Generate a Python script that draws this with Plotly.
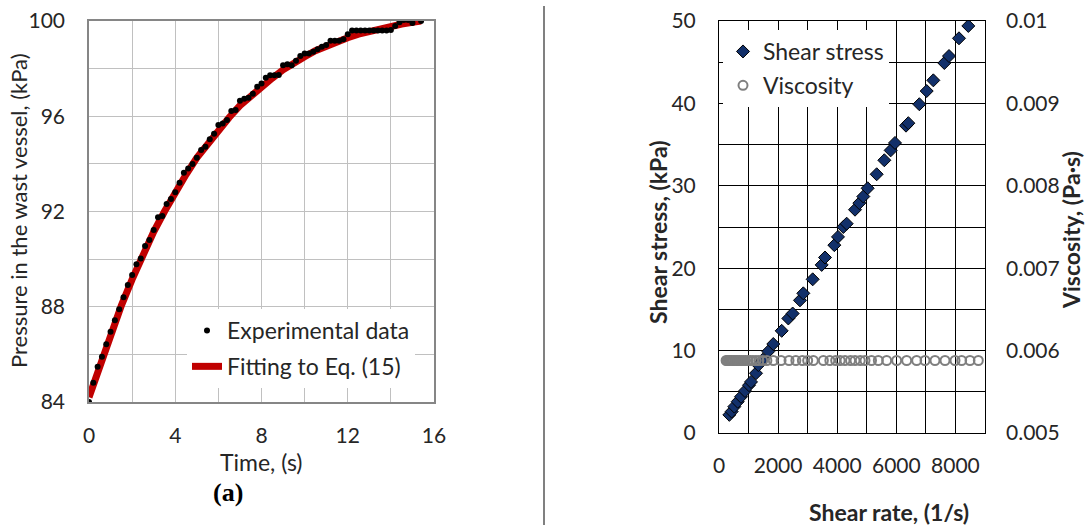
import plotly.graph_objects as go

# ---------------- data: left panel (pressure vs time) ----------------
time_s = [0, 0.2, 0.4, 0.6, 0.8, 1.0, 1.2, 1.4, 1.6, 1.8, 2.0, 2.2, 2.4, 2.6, 2.8,
          3.0, 3.2, 3.4, 3.6, 3.8, 4.0, 4.2, 4.4, 4.6, 4.8, 5.0, 5.2, 5.4, 5.6, 5.8,
          6.0, 6.2, 6.4, 6.6, 6.8, 7.0, 7.2, 7.4, 7.6, 7.8, 8.0, 8.2, 8.4, 8.6, 8.8,
          9.0, 9.2, 9.4, 9.6, 9.8, 10.0, 10.2, 10.4, 10.6, 10.8, 11.0, 11.2, 11.4,
          11.6, 11.8, 12.0, 12.2, 12.4, 12.6, 12.8, 13.0, 13.2, 13.4, 13.6, 13.8,
          14.0, 14.2, 14.4, 14.6, 14.8, 15.0, 15.4]
pressure_kpa = [84.0, 84.81, 85.48, 85.9, 86.42, 86.95, 87.43, 87.89, 88.4, 88.91,
                89.33, 89.78, 90.03, 90.55, 90.8, 91.22, 91.76, 91.81, 92.32, 92.53,
                92.81, 93.21, 93.63, 93.81, 94.0, 94.26, 94.58, 94.72, 95.03, 95.26,
                95.63, 95.7, 95.84, 96.22, 96.26, 96.65, 96.73, 96.78, 96.94, 97.24,
                97.38, 97.62, 97.72, 97.72, 97.73, 98.14, 98.18, 98.14, 98.33, 98.53,
                98.64, 98.64, 98.71, 98.81, 98.92, 98.99, 99.17, 99.17, 99.17, 99.23,
                99.44, 99.6, 99.6, 99.6, 99.6, 99.6, 99.6, 99.6, 99.6, 99.6,
                99.62, 99.79, 99.95, 100.04, 100.04, 99.92, 100.0]

fit_time_s = [0, 0.5, 1, 1.5, 2, 2.5, 3, 3.5, 4, 4.5, 5, 5.5, 6, 6.5, 7, 7.5, 8,
              8.5, 9, 9.5, 10, 10.5, 11, 11.5, 12, 12.5, 13, 13.5, 14, 14.5, 15, 15.4]
fit_pressure_kpa = [84.2, 85.55, 86.85, 88.05, 89.15, 90.2, 91.15, 92.0, 92.8, 93.55,
                    94.25, 94.85, 95.45, 95.95, 96.45, 96.85, 97.25, 97.6, 97.95, 98.25,
                    98.5, 98.75, 98.95, 99.15, 99.3, 99.45, 99.57, 99.68, 99.78, 99.87,
                    99.95, 100.0]

# ---------------- data: right panel (rheology) ----------------
shear_rate = [350, 429, 519, 632, 744, 880, 1015, 1083, 1252, 1331, 1480, 1668, 1837,
              2121, 2346, 2493, 2740, 2853, 3170, 3474, 3586, 3902, 4026, 4207, 4320,
              4602, 4748, 4883, 5030, 5335, 5594, 5808, 5955, 6327, 6406, 6778, 7027,
              7252, 7624, 7782, 8120, 8436]
shear_stress_kpa = [2.2, 2.6, 3.2, 3.8, 4.4, 5.1, 5.8, 6.2, 7.25, 8.25, 8.9, 9.9, 10.8,
                    12.4, 13.9, 14.5, 16.1, 16.95, 18.65, 20.4, 21.3, 22.8, 23.8, 25.0,
                    25.4, 27.1, 27.9, 28.7, 29.7, 31.4, 33.1, 34.3, 35.2, 37.3, 37.6,
                    39.9, 41.5, 42.8, 44.9, 45.75, 47.9, 49.4]

visc_shear_rate = [240, 280, 320, 360, 400, 440, 480, 530, 580, 640, 700, 760, 830, 900,
                   980, 1060, 1150, 1250, 1350, 1480, 1620, 1838, 2100, 2369, 2600, 2820,
                   3000, 3192, 3531, 3750, 3948, 4100, 4263, 4450, 4602, 4780, 4940,
                   5160, 5391, 5673, 6011, 6350, 6688, 6970, 7308, 7647, 7985, 8210,
                   8492, 8774]
viscosity_pas = [0.00588, 0.00588, 0.00588, 0.00588, 0.00588, 0.00588, 0.00588, 0.00588,
                 0.00588, 0.00588, 0.00588, 0.00588, 0.00588, 0.00588, 0.00588, 0.00588,
                 0.00588, 0.00588, 0.00588, 0.00588, 0.00588, 0.00588, 0.00588, 0.00588,
                 0.00588, 0.00588, 0.00588, 0.00588, 0.00588, 0.00588, 0.00588, 0.00588,
                 0.00588, 0.00588, 0.00588, 0.00588, 0.00588, 0.00588, 0.00588, 0.00588,
                 0.00588, 0.00588, 0.00588, 0.00588, 0.00588, 0.00588, 0.00588, 0.00588,
                 0.00588, 0.00588]

visc_tickvals = [0.005, 0.006, 0.007, 0.008, 0.009, 0.01]
visc_ticktext = ["0.005", "0.006", "0.007", "0.008", "0.009", "0.01"]

# ---------------- figure ----------------
W, H = 1088, 525
FONT = "Lato"
FS = 21      # tick labels
TS = 23      # titles and legends
TXT = "#262626"


def px_x(p):
    return p / W


def px_y(p):
    return 1 - p / H


fig = go.Figure()

fig.add_trace(go.Scatter(
    x=fit_time_s, y=fit_pressure_kpa, mode="lines", name="Fitting to Eq. (15)",
    line=dict(color="#c00000", width=7), xaxis="x", yaxis="y",
    legend="legend", legendgroup="fit", legendrank=2))
fig.add_trace(go.Scatter(
    x=time_s, y=pressure_kpa, mode="markers", name="Experimental data",
    marker=dict(color="black", size=6), xaxis="x", yaxis="y",
    legend="legend", legendgroup="exp", legendrank=1))

fig.add_trace(go.Scatter(
    x=shear_rate, y=shear_stress_kpa, mode="markers", name="Shear stress",
    marker=dict(symbol="diamond", color="#12306a", size=10,
                line=dict(color="black", width=1)),
    xaxis="x2", yaxis="y2", legend="legend2", legendgroup="ss", legendrank=1))
fig.add_trace(go.Scatter(
    x=visc_shear_rate, y=viscosity_pas, mode="markers", name="Viscosity",
    marker=dict(symbol="circle-open", color="#7f7f7f", size=9,
                line=dict(color="#7f7f7f", width=2)),
    xaxis="x2", yaxis="y3", legend="legend2", legendgroup="vi", legendrank=2))

tickfont = dict(family=FONT, size=FS, color=TXT)

common = dict(zeroline=False, ticks="", tickfont=tickfont, automargin=False,
              showline=True, mirror=True, showgrid=True, gridwidth=1)

fig.update_layout(
    width=W, height=H,
    margin=dict(l=0, r=0, t=0, b=0, autoexpand=False),
    paper_bgcolor="white", plot_bgcolor="white",
    font=dict(family=FONT, size=FS, color="black"),
    xaxis=dict(domain=[px_x(89), px_x(434)], range=[0, 16], tick0=0, dtick=4,
               gridcolor="#c0c0c0",
               minor=dict(dtick=2, showgrid=True, gridcolor="#c0c0c0", gridwidth=1),
               linecolor="#868686", linewidth=1.5, ticklabelstandoff=14,
               anchor="y", **common),
    yaxis=dict(domain=[px_y(402), px_y(21)], range=[84, 100], tick0=84, dtick=4,
               gridcolor="#c0c0c0",
               minor=dict(dtick=2, showgrid=True, gridcolor="#c0c0c0", gridwidth=1),
               linecolor="#868686", linewidth=1.5, ticklabelstandoff=18,
               anchor="x", **common),
    xaxis2=dict(domain=[px_x(719), px_x(985)], range=[0, 9000], tick0=0, dtick=2000,
                gridcolor="black",
                minor=dict(dtick=1000, showgrid=True, gridcolor="black", gridwidth=1),
                linecolor="black", linewidth=1, ticklabelstandoff=14,
                anchor="y2", **common),
    yaxis2=dict(domain=[px_y(433), px_y(21)], range=[0, 50], tick0=0, dtick=10,
                gridcolor="black",
                minor=dict(dtick=5, showgrid=True, gridcolor="black", gridwidth=1),
                linecolor="black", linewidth=1, ticklabelstandoff=18,
                anchor="x2", **common),
    yaxis3=dict(overlaying="y2", side="right", anchor="x2", range=[0.005, 0.01],
                tickvals=visc_tickvals, ticktext=visc_ticktext,
                showgrid=False, zeroline=False, showline=False, ticks="",
                tickfont=tickfont, ticklabelstandoff=20, automargin=False),
    legend=dict(x=px_x(187), y=px_y(309), xanchor="left", yanchor="top",
                bgcolor="white", borderwidth=0, font=dict(family=FONT, size=TS, color=TXT),
                tracegroupgap=3, traceorder="grouped", itemwidth=30),
    legend2=dict(x=px_x(723), y=px_y(30), xanchor="left", yanchor="top",
                 bgcolor="white", borderwidth=0, font=dict(family=FONT, size=TS, color=TXT),
                 tracegroupgap=1, traceorder="grouped", itemwidth=30),
    showlegend=True,
)

annotations = [
    dict(text="Pressure in the wast vessel, (kPa)", x=px_x(18), y=px_y(211),
         textangle=-90, font=dict(family=FONT, size=22, color=TXT)),
    dict(text="Time, (s)", x=px_x(261), y=px_y(462),
         font=dict(family=FONT, size=TS, color=TXT)),
    dict(text="<b>(a)</b>", x=px_x(228), y=px_y(492),
         font=dict(family="Liberation Serif", size=26, color="black")),
    dict(text="<b>Shear stress, (kPa)</b>", x=px_x(658), y=px_y(232), textangle=-90,
         font=dict(family=FONT, size=TS, color=TXT)),
    dict(text="<b>Viscosity, (Pa·s)</b>", x=px_x(1071), y=px_y(230), textangle=-90,
         font=dict(family=FONT, size=TS, color=TXT)),
    dict(text="<b>Shear rate, (1/s)</b>", x=px_x(889), y=px_y(512),
         font=dict(family=FONT, size=TS, color=TXT)),
]
for a in annotations:
    a.update(xref="paper", yref="paper", showarrow=False, xanchor="center", yanchor="middle")
fig.update_layout(annotations=annotations)

fig.add_shape(type="line", xref="paper", yref="paper",
              x0=px_x(544), x1=px_x(544), y0=px_y(6), y1=0,
              line=dict(color="#808080", width=2))

fig.write_html("out.html", config={"displayModeBar": False},
               post_script="document.body.style.margin='0';document.body.style.overflow='hidden';")
